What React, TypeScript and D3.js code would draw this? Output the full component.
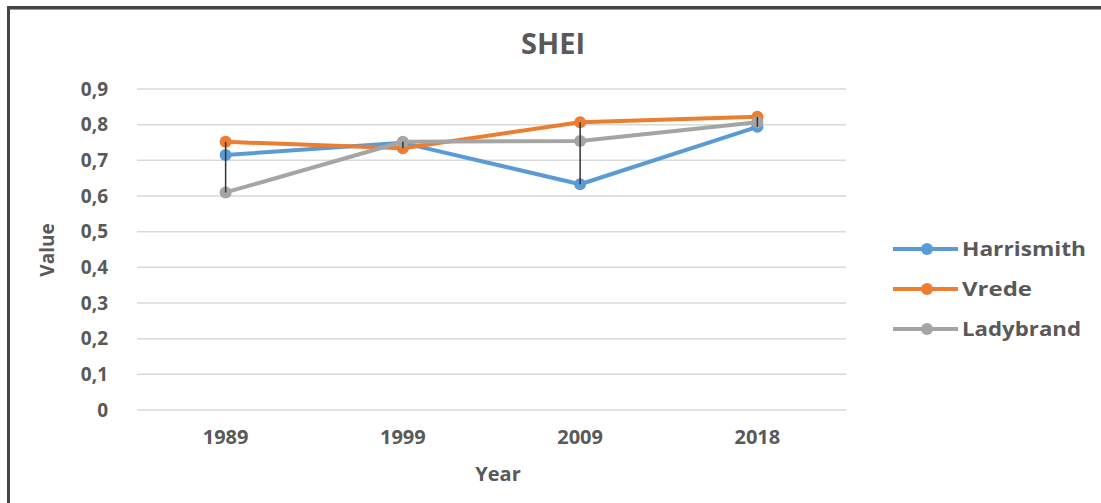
import React from "react";
import * as d3 from "d3";

const years = ["1989", "1999", "2009", "2018"];
const harrismith = [0.715, 0.749, 0.633, 0.794];
const vrede = [0.752, 0.734, 0.807, 0.822];
const ladybrand = [0.61, 0.752, 0.754, 0.807];
const yTicks = [0, 0.1, 0.2, 0.3, 0.4, 0.5, 0.6, 0.7, 0.8, 0.9];
const seriesNames = ["Harrismith", "Vrede", "Ladybrand"];
const seriesColors = ["#5B9BD5", "#ED7D31", "#A5A5A5"];

const W = 1101;
const H = 503;
const FONT = "'Open Sans', 'DejaVu Sans', sans-serif";
const TXT = "#595959";

export default function App() {
  const series = [harrismith, vrede, ladybrand];
  const x = d3.scaleBand<string>().domain(years).range([137, 846]).padding(0);
  const y = d3.scaleLinear().domain([0, 0.9]).range([410, 89]);
  const cx = (yr: string) => (x(yr) as number) + x.bandwidth() / 2;
  const line = d3
    .line<number>()
    .x((_, i) => cx(years[i]))
    .y((v) => y(v));
  const fmt = (v: number) => (v === 0 ? "0" : d3.format(".1f")(v).replace(".", ","));
  const legendY = [249, 289, 329];
  const legendTL = [124, 70, 119];

  return (
    <>
      <style>{"html,body{margin:0;padding:0;overflow:hidden;background:#fff}"}</style>
      <svg width={W} height={H} style={{ display: "block", overflow: "hidden" }}>
        <rect x={0} y={0} width={W} height={H} fill="#fff" />
        <rect x={8.5} y={7.5} width={1300} height={800} fill="none" stroke="#454545" strokeWidth={3} />
        <line x1={10} x2={W} y1={9.5} y2={9.5} stroke="#9a9a9a" strokeWidth={1} />
        <text x={553} y={54} textAnchor="middle" fontFamily={FONT} fontWeight="bold" fontSize={29} fill={TXT}>
          SHEI
        </text>
        {yTicks.map((t) => (
          <g key={t}>
            <line x1={137} x2={846} y1={y(t)} y2={y(t)} stroke="#d9d9d9" strokeWidth={1.5} />
            <text x={108} y={y(t)} dy="0.35em" textAnchor="end" fontFamily={FONT} fontWeight="bold" fontSize={19} fill={TXT}>
              {fmt(t)}
            </text>
          </g>
        ))}
        {years.map((yr) => (
          <text key={yr} x={cx(yr)} y={444} textAnchor="middle" fontFamily={FONT} fontWeight="bold" fontSize={20} fill={TXT}>
            {yr}
          </text>
        ))}
        <text x={498} y={481} textAnchor="middle" fontFamily={FONT} fontWeight="bold" fontSize={20} fill={TXT}>
          Year
        </text>
        <text
          transform={`translate(54,250) rotate(-90)`}
          textAnchor="middle"
          fontFamily={FONT}
          fontWeight="bold"
          fontSize={19}
          fill={TXT}
        >
          Value
        </text>
        {series.map((s, si) => (
          <g key={si}>
            <path d={line(s) || ""} fill="none" stroke={seriesColors[si]} strokeWidth={4} strokeLinejoin="round" />
            {s.map((v, i) => (
              <circle key={i} cx={cx(years[i])} cy={y(v)} r={6} fill={seriesColors[si]} />
            ))}
          </g>
        ))}
        {years.map((yr, i) => {
          const vals = series.map((s) => s[i]);
          return (
            <line
              key={yr}
              x1={cx(yr)}
              x2={cx(yr)}
              y1={y(d3.max(vals) as number)}
              y2={y(d3.min(vals) as number)}
              stroke="#333"
              strokeWidth={1.5}
            />
          );
        })}
        {seriesNames.map((n, i) => (
          <g key={n}>
            <line x1={893} x2={958} y1={legendY[i]} y2={legendY[i]} stroke={seriesColors[i]} strokeWidth={4} />
            <circle cx={927} cy={legendY[i]} r={6} fill={seriesColors[i]} />
            <text
              x={962}
              y={legendY[i]}
              dy="0.35em"
              fontFamily={FONT}
              fontWeight="bold"
              fontSize={19}
              fill={TXT}
              textLength={legendTL[i]}
              lengthAdjust="spacingAndGlyphs"
            >
              {n}
            </text>
          </g>
        ))}
      </svg>
    </>
  );
}
